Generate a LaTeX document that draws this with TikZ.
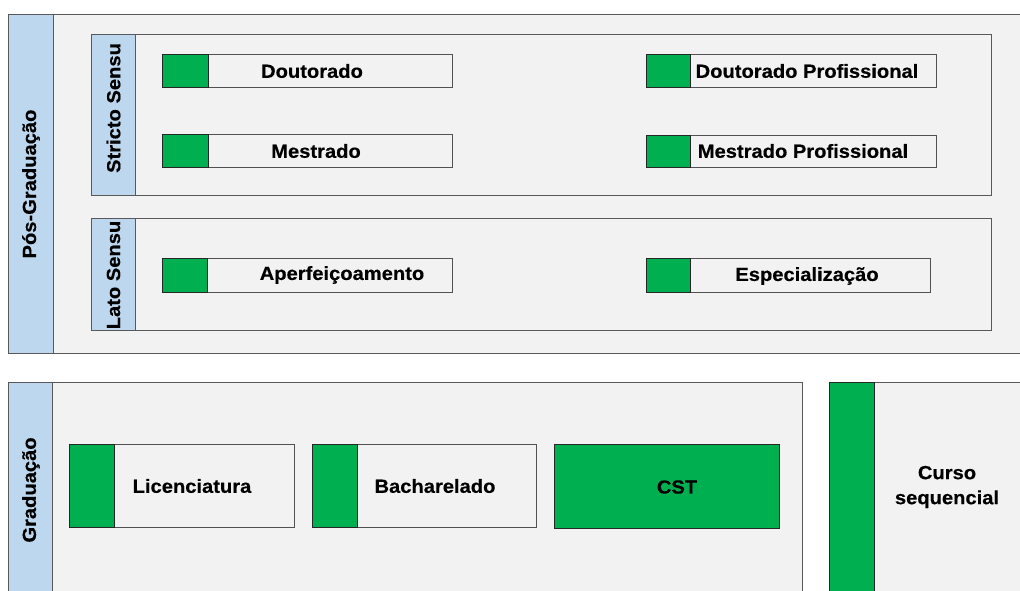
\documentclass[tikz,border=0pt]{standalone}
\usepackage{fontspec}
\setmainfont[FakeStretch=1.06,BoldFeatures={FakeBold=0.4}]{Liberation Sans}
\definecolor{panelgray}{HTML}{F2F2F2}
\definecolor{bandblue}{HTML}{BDD7EE}
\definecolor{greenfill}{HTML}{00B050}
\definecolor{edgegray}{HTML}{595959}
\definecolor{edgedark}{HTML}{262626}
\begin{document}
\begin{tikzpicture}[x=1pt,y=-1pt,
  every node/.style={inner sep=0pt,outer sep=0pt},
  panel/.style={rectangle,fill=panelgray,draw=edgegray,line width=0.8pt,anchor=north west},
  band/.style={rectangle,fill=bandblue,draw=edgegray,line width=0.8pt,anchor=north west},
  itembox/.style={rectangle,fill=panelgray,draw=edgedark!80,line width=0.8pt,anchor=north west},
  greenbox/.style={rectangle,fill=greenfill,draw=edgedark,line width=0.8pt,anchor=north west},
  lbl/.style={font=\fontsize{19}{25}\selectfont\bfseries,text=black,align=center},
  vlbl/.style={lbl,rotate=90}]
\useasboundingbox (0,0) rectangle (1020,590);
\fill[white] (0,0) rectangle (1020,590);
\clip (0,0) rectangle (1020,590);

% Pós-Graduação
\node[panel,minimum width=1030pt,minimum height=339pt] (pos) at (8,14) {};
\node[band,minimum width=45pt,minimum height=339pt] (posband) at (8,14) {};
\node[vlbl] (poslbl) at (31,184) {Pós-Graduação};

% Stricto Sensu
\node[panel,minimum width=900pt,minimum height=161pt] (stricto) at (91,34) {};
\node[band,minimum width=44pt,minimum height=161pt] (strictoband) at (91,34) {};
\node[vlbl] (strictolbl) at (113.5,108) {Stricto Sensu};

% Lato Sensu
\node[panel,minimum width=900pt,minimum height=112pt] (lato) at (91,218) {};
\node[band,minimum width=44pt,minimum height=112pt] (latoband) at (91,218) {};
\node[vlbl] (latolbl) at (113.5,275) {Lato Sensu};

% Stricto items
\node[itembox,minimum width=290pt,minimum height=33pt] (dout) at (162,54) {};
\node[greenbox,minimum width=46pt,minimum height=33pt] (doutg) at (162,54) {};
\node[lbl] (doutt) at (312,71) {Doutorado};

\node[itembox,minimum width=290pt,minimum height=33pt] (mest) at (162,134) {};
\node[greenbox,minimum width=46pt,minimum height=33pt] (mestg) at (162,134) {};
\node[lbl] (mestt) at (316,151) {Mestrado};

\node[itembox,minimum width=290pt,minimum height=33pt] (doutp) at (646,54) {};
\node[greenbox,minimum width=44pt,minimum height=33pt] (doutpg) at (646,54) {};
\node[lbl] (doutpt) at (807,71) {Doutorado Profissional};

\node[itembox,minimum width=290pt,minimum height=32pt] (mestp) at (646,135) {};
\node[greenbox,minimum width=44pt,minimum height=32pt] (mestpg) at (646,135) {};
\node[lbl] (mestpt) at (803,151) {Mestrado Profissional};

% Lato items
\node[itembox,minimum width=290pt,minimum height=34pt] (aperf) at (162,258) {};
\node[greenbox,minimum width=45pt,minimum height=34pt] (aperfg) at (162,258) {};
\node[lbl] (aperft) at (342,275) {Aperfeiçoamento};

\node[itembox,minimum width=284pt,minimum height=34pt] (espec) at (646,258) {};
\node[greenbox,minimum width=44pt,minimum height=34pt] (especg) at (646,258) {};
\node[lbl] (espect) at (807,276) {Especialização};

% Graduação
\node[panel,minimum width=794pt,minimum height=220pt] (grad) at (8,382) {};
\node[band,minimum width=44pt,minimum height=220pt] (gradband) at (8,382) {};
\node[vlbl] (gradlbl) at (31,490) {Graduação};

\node[itembox,minimum width=225pt,minimum height=83pt] (lic) at (69,444) {};
\node[greenbox,minimum width=45pt,minimum height=83pt] (licg) at (69,444) {};
\node[lbl] (lict) at (192,486) {Licenciatura};

\node[itembox,minimum width=224pt,minimum height=83pt] (bach) at (312,444) {};
\node[greenbox,minimum width=45pt,minimum height=83pt] (bachg) at (312,444) {};
\node[lbl] (bacht) at (435,486) {Bacharelado};

\node[greenbox,minimum width=225pt,minimum height=84pt] (cst) at (554,444) {};
\node[lbl] (cstt) at (677,487) {CST};

% Curso sequencial
\node[panel,minimum width=220pt,minimum height=220pt] (seq) at (829,382) {};
\node[greenbox,minimum width=45pt,minimum height=220pt] (seqg) at (829,382) {};
\node[lbl] (seqt) at (947,487) {Curso\\sequencial};
\end{tikzpicture}
\end{document}
